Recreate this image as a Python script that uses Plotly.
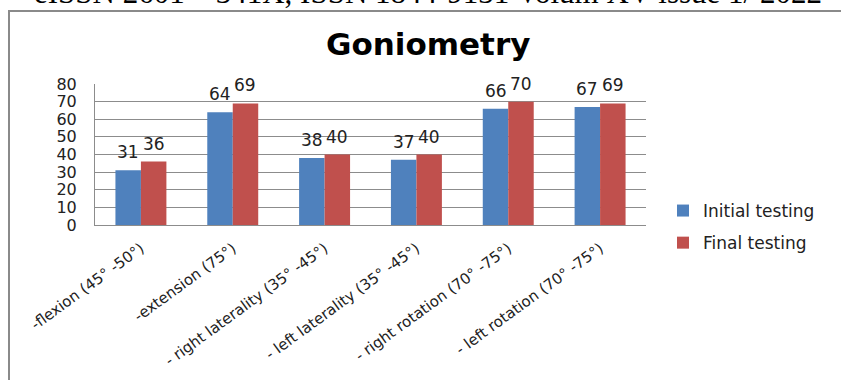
import plotly.graph_objects as go

# Goniometry results: range of motion per movement, initial vs final testing
categories = [
    "-flexion (45° -50°)",
    "-extension (75°)",
    "- right laterality (35° -45°)",
    "- left laterality (35° -45°)",
    "- right rotation (70° -75°)",
    "- left rotation (70° -75°)",
]
initial_testing = [31, 64, 38, 37, 66, 67]
final_testing = [36, 69, 40, 40, 70, 69]
y_ticks = [0, 10, 20, 30, 40, 50, 60, 70, 80]

BLUE = "#4F81BD"
RED = "#C0504D"
GRID = "#8c8c8c"
FONT = "DejaVu Sans"

W, H = 841, 380
L, R, T, B = 95, 195, 84, 155
pw, ph = W - L - R, H - T - B


def px_x(px):
    return (px - L) / pw


def px_y(py):
    return (H - B - py) / ph


fig = go.Figure()
fig.add_trace(go.Bar(name="Initial testing", x=categories, y=initial_testing,
                     marker=dict(color=BLUE, line=dict(width=0)), legendgroup="a"))
fig.add_trace(go.Bar(name="Final testing", x=categories, y=final_testing,
                     marker=dict(color=RED, line=dict(width=0)), legendgroup="b"))

annotations = []
half = pw / len(categories) * (1 - 0.445) / 4
for cat, v in zip(categories, initial_testing):
    annotations.append(dict(x=cat, y=v, xref="x", yref="y", text=str(v), showarrow=False,
                            xshift=-half, yshift=18, yanchor="middle",
                            font=dict(family=FONT, size=17, color="#222222")))
for cat, v in zip(categories, final_testing):
    annotations.append(dict(x=cat, y=v, xref="x", yref="y", text=str(v), showarrow=False,
                            xshift=half, yshift=18, yanchor="middle",
                            font=dict(family=FONT, size=17, color="#222222")))

# chart title
annotations.append(dict(x=px_x(428), y=px_y(44), xref="paper", yref="paper", text="<b>Goniometry</b>",
                        showarrow=False, xanchor="center", yanchor="middle",
                        font=dict(family=FONT, size=31, color="#000000")))
# journal header line
annotations.append(dict(x=px_x(428), y=px_y(12), xref="paper", yref="paper",
                        text="eISSN 2601 – 341X, ISSN 1844-9131 Volum XV issue 1/ 2022",
                        showarrow=False, xanchor="center", yanchor="bottom",
                        font=dict(family="Liberation Serif", size=31, color="#000000")))

fig.update_layout(
    width=W, height=H,
    margin=dict(l=L, r=R, t=T, b=B, autoexpand=False),
    paper_bgcolor="white", plot_bgcolor="white",
    barmode="group", bargap=0.445, bargroupgap=0,
    showlegend=True,
    legend=dict(x=px_x(663), y=px_y(193), xanchor="left", yanchor="top",
                font=dict(family=FONT, size=17, color="#222222"),
                tracegroupgap=7, bgcolor="rgba(0,0,0,0)"),
    annotations=annotations,
    shapes=[dict(type="rect", xref="paper", yref="paper",
                 x0=px_x(9), x1=px_x(900), y0=px_y(450), y1=px_y(11),
                 line=dict(color="#8a8a8a", width=2), layer="below")],
)
fig.update_xaxes(showline=True, linecolor=GRID, linewidth=1, ticks="",
                 tickangle=-36, ticklabelstandoff=8,
                 tickfont=dict(family=FONT, size=15, color="#222222"))
fig.update_yaxes(range=[0, 80], tickvals=y_ticks, showgrid=True, gridcolor=GRID, gridwidth=1,
                 showline=True, linecolor=GRID, linewidth=1, ticks="", ticklabelstandoff=14,
                 zeroline=False, tickfont=dict(family=FONT, size=16, color="#222222"))

fig.write_html("out.html")
